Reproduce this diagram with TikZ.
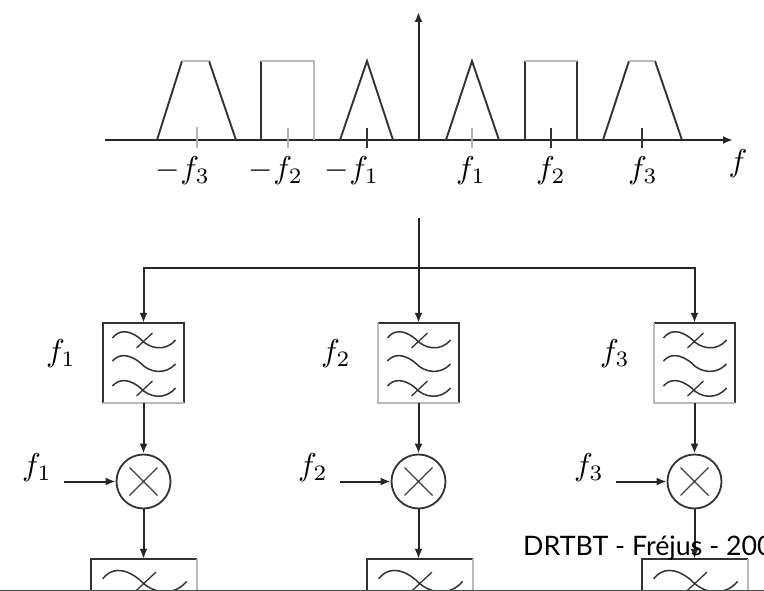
\documentclass[tikz,border=0pt]{standalone}
\usepackage{fontspec}
\newfontfamily\slidefont{Lato}
\usetikzlibrary{arrows.meta}
\tikzset{
  x=1pt,y=-1pt,
  wire/.style={line width=2pt,draw=black!85},
  flow/.style={wire,-{Latex[length=10pt,width=8pt]}},
  band/.style={line width=1.9pt,draw=black!80},
  fadeband/.style={line width=1.9pt,draw=black!28},
  tick/.style={line width=1.6pt,draw=black!80},
  fadetick/.style={line width=1.6pt,draw=black!30},
  lab/.style={inner sep=0pt,scale=3.15,text=black},
  filterbox/.style={rectangle,minimum width=81pt,minimum height=80pt,inner sep=0pt},
  lowbox/.style={rectangle,minimum width=106pt,minimum height=106pt,inner sep=0pt},
  mixer/.style={draw=black!80,line width=1.8pt,circle,minimum size=54pt,inner sep=0pt},
  waves/.pic={
    \draw[line width=1.5pt,black!80] (-31,-25) .. controls (-25,-33) and (-15,-34) .. (-3,-24) .. controls (6,-14) and (22,-11) .. (32,-23);
    \draw[line width=1.5pt,black!80] (-31,-2) .. controls (-25,-9) and (-15,-10) .. (-3,0) .. controls (6,10) and (22,12) .. (32,1);
    \draw[line width=1.5pt,black!80] (-31,23) .. controls (-25,16) and (-15,15) .. (-3,25) .. controls (6,35) and (22,37) .. (32,25);
    \draw[line width=1.3pt,black!80] (-7,-15) -- (9,-30);
    \draw[line width=1.3pt,black!80] (-7,33) -- (9,18);
  },
  crossmark/.pic={
    \draw[line width=1.3pt,black!75] (-14,-14) -- (14,14) (-14,14) -- (14,-14);
  }
}
\begin{document}
\begin{tikzpicture}
\path[use as bounding box,clip] (0,0) rectangle (764,591);
\fill[white] (0,0) rectangle (764,591);
% spectrum axes
\coordinate (axl) at (105,140);
\coordinate (axr) at (733,140);
\coordinate (axo) at (418.5,140);
\coordinate (axt) at (418.5,12);
\draw[flow] (axl) -- (axr);
\draw[flow] (axo) -- (axt);
% spectrum bands
\draw[band] (157,140) -- (182,61) (209,61) -- (236,140);
\draw[fadeband] (182,61) -- (209,61);
\draw[band] (261,140) -- (261,61);
\draw[fadeband] (261,61) -- (314,61) -- (314,140);
\draw[band] (340,140) -- (367,61) -- (393,140);
\draw[band] (446,140) -- (472,61) -- (499,140);
\draw[band] (525,140) -- (525,61) (577,61) -- (577,140);
\draw[fadeband] (525,61) -- (577,61);
\draw[band] (603,140) -- (629,61) (655,61) -- (682,140);
\draw[fadeband] (629,61) -- (655,61);
% ticks
\draw[fadetick] (197,127) -- (197,148);
\draw[fadetick] (288,128) -- (288,148);
\draw[tick] (367,128) -- (367,148);
\draw[fadetick] (472,128) -- (472,148);
\draw[tick] (551,128) -- (551,148);
\draw[tick] (642,128) -- (642,148);
% spectrum labels
\node[lab] (lm3) at (183,171) {$-f_3$};
\node[lab] (lm2) at (276,171) {$-f_2$};
\node[lab] (lm1) at (352,171) {$-f_1$};
\node[lab] (lp1) at (471,171) {$f_1$};
\node[lab] (lp2) at (551,171) {$f_2$};
\node[lab] (lp3) at (643,171) {$f_3$};
\node[lab] (lf) at (738,164) {$f$};
% filter bank
\coordinate (in) at (418.5,218);
\coordinate (bus) at (418.5,268);
\node[filterbox] (b1) at (143.5,363) {};
\node[filterbox] (b2) at (418.5,363) {};
\node[filterbox] (b3) at (694.5,363) {};
\node[mixer] (m1) at (143.5,481.5) {};
\node[mixer] (m2) at (418.5,481.5) {};
\node[mixer] (m3) at (694.5,481.5) {};
\node[lowbox] (c1) at (144,612) {};
\node[lowbox] (c2) at (420,612) {};
\node[lowbox] (c3) at (695,612) {};
% filter box edges: some print faint
\draw[band] (b1.south west) -- (b1.north west) -- (b1.north east) -- (b1.south east);
\draw[fadeband] (b1.south west) -- (b1.south east);
\draw[band] (b2.north west) -- (b2.north east) -- (b2.south east);
\draw[fadeband] (b2.north west) -- (b2.south west) -- (b2.south east);
\draw[band] (b3.north west) -- (b3.north east) -- (b3.south east);
\draw[fadeband] (b3.north west) -- (b3.south west) -- (b3.south east);
\foreach \k in {1,2,3}{
  \draw[band] (c\k.south west) -- (c\k.north west) -- (c\k.north east);
  \draw[fadeband] (c\k.north east) -- (c\k.south east);
}
\draw[wire] (in) -- (bus);
\draw[flow] (bus) -- (b2.north);
\draw[flow] (bus) -| (b1.north);
\draw[flow] (bus) -| (b3.north);
\foreach \k in {1,2,3}{
  \pic at (b\k.center) {waves};
  \pic[scale=1.33] at (c\k.center) {waves};
  \pic at (m\k.center) {crossmark};
  \draw[flow] (b\k.south) -- (m\k.north);
  \draw[flow] (m\k.south) -- (m\k.south |- c\k.north);
}
% labels beside filters
\node[lab] (fl1) at (61,354) {$f_1$};
\node[lab] (fl2) at (336,354) {$f_2$};
\node[lab] (fl3) at (615,354) {$f_3$};
% local oscillators
\node[lab] (lo1) at (37,468) {$f_1$};
\node[lab] (lo2) at (313,468) {$f_2$};
\node[lab] (lo3) at (589,468) {$f_3$};
\coordinate (s1) at (64,481.5);
\coordinate (s2) at (340,481.5);
\coordinate (s3) at (616,481.5);
\draw[flow] (s1) -- (m1.west);
\draw[flow] (s2) -- (m2.west);
\draw[flow] (s3) -- (m3.west);
% footer
\fill[black!70] (0,589.5) rectangle (764,591);
\node[anchor=base west,inner sep=0pt,font=\slidefont\fontsize{26.8}{27}\selectfont] (ft) at (523,555) {DRTBT - Fréjus - 200};
\end{tikzpicture}
\end{document}
